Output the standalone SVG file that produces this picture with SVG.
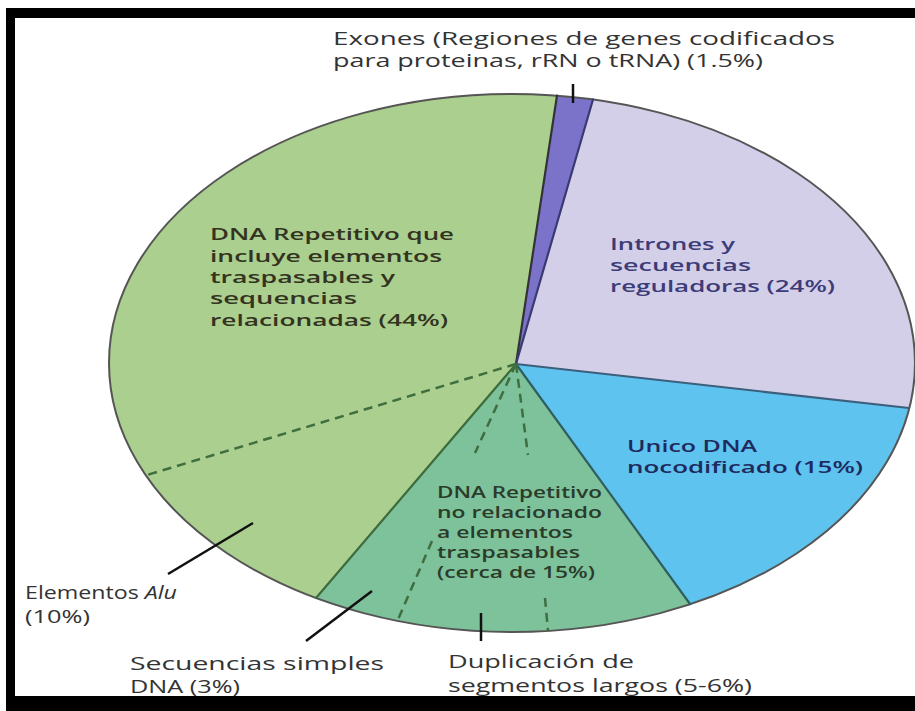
<svg xmlns="http://www.w3.org/2000/svg" width="915" height="711" viewBox="0 0 915 711">
<style>
.lbl{font-family:"Open Sans","Liberation Sans",sans-serif;font-size:18px;fill:#333;}
.in{font-family:"Open Sans","Liberation Sans",sans-serif;font-size:17px;font-weight:600;}
.sep{fill:none;stroke-width:2.2;stroke-linecap:round;}
.dash{fill:none;stroke:#3f6e3f;stroke-width:2.5;stroke-dasharray:9 6;}
.lead{fill:none;stroke:#111;stroke-width:2.5;}
</style>
<rect x="0" y="0" width="915" height="711" fill="#ffffff"/>
<g id="frame" fill="#000">
<rect x="6" y="8" width="909" height="10"/>
<rect x="6" y="8" width="9" height="703"/>
<rect x="6" y="696" width="909" height="15"/>
</g>
<g id="pie">
<g id="slice-repetitivo">
<path d="M516,364 L316,598 A403,269 0 0 1 557,95.7 Z" fill="#abcf8e"/>
</g>
<g id="slice-exones">
<path d="M516,364 L557,95.7 A403,269 0 0 1 593,99.5 Z" fill="#7b72c9"/>
</g>
<g id="slice-intrones">
<path d="M516,364 L593,99.5 A403,269 0 0 1 909,408 Z" fill="#d4cfe9"/>
</g>
<g id="slice-unico">
<path d="M516,364 L909,408 A403,269 0 0 1 690,604 Z" fill="#5ec3ee"/>
</g>
<g id="slice-norel">
<path d="M516,364 L690,604 A403,269 0 0 1 316,598 Z" fill="#7dc29a"/>
</g>
<ellipse cx="512" cy="363" rx="403" ry="269" fill="none" stroke="#555" stroke-width="2"/>
</g>
<g id="connectors">
<line class="sep" x1="516" y1="364" x2="557" y2="95.7" stroke="#333"/>
<line class="sep" x1="516" y1="364" x2="593" y2="99.5" stroke="#3a3a72"/>
<line class="sep" x1="516" y1="364" x2="909" y2="408" stroke="#3b5f7c"/>
<line class="sep" x1="516" y1="364" x2="690" y2="604" stroke="#2f5f5f"/>
<line class="sep" x1="516" y1="364" x2="316" y2="598" stroke="#3d6b3d"/>
<line class="dash" x1="516" y1="364" x2="147" y2="475"/>
<line class="dash" x1="516" y1="364" x2="475" y2="453"/>
<line class="dash" x1="516" y1="364" x2="528" y2="455"/>
<line class="dash" x1="432" y1="541" x2="397" y2="622"/>
<line class="dash" x1="545" y1="598" x2="548" y2="631"/>
<line class="lead" x1="573" y1="84" x2="573" y2="103" stroke-width="3"/>
<line class="lead" x1="481" y1="613" x2="481" y2="641"/>
<line class="lead" x1="253" y1="523" x2="168" y2="574"/>
<line class="lead" x1="372" y1="591" x2="306" y2="641"/>
</g>
<g id="label-exones" class="lbl">
<text x="333" y="45" textLength="502" lengthAdjust="spacingAndGlyphs">Exones (Regiones de genes codificados</text>
<text x="333" y="67" textLength="430" lengthAdjust="spacingAndGlyphs">para proteinas, rRN o tRNA) (1.5%)</text>
</g>
<g id="label-repetitivo" class="in" fill="#33331f">
<text x="210" y="240" textLength="244" lengthAdjust="spacingAndGlyphs">DNA Repetitivo que</text>
<text x="210" y="262" textLength="232" lengthAdjust="spacingAndGlyphs">incluye elementos</text>
<text x="210" y="283" textLength="185" lengthAdjust="spacingAndGlyphs">traspasables y</text>
<text x="210" y="304" textLength="147" lengthAdjust="spacingAndGlyphs">sequencias</text>
<text x="210" y="326" textLength="238" lengthAdjust="spacingAndGlyphs">relacionadas (44%)</text>
</g>
<g id="label-intrones" class="in" fill="#3c3c78">
<text x="610" y="250" textLength="125" lengthAdjust="spacingAndGlyphs">Intrones y</text>
<text x="610" y="271" textLength="141" lengthAdjust="spacingAndGlyphs">secuencias</text>
<text x="610" y="292" textLength="225" lengthAdjust="spacingAndGlyphs">reguladoras (24%)</text>
</g>
<g id="label-unico" class="in" fill="#1e2a5e">
<text x="627" y="452" textLength="130" lengthAdjust="spacingAndGlyphs">Unico DNA</text>
<text x="627" y="473" textLength="236" lengthAdjust="spacingAndGlyphs">nocodificado (15%)</text>
</g>
<g id="label-norel" class="in" fill="#2b3b2b" font-size="16">
<text x="437" y="498" textLength="165" lengthAdjust="spacingAndGlyphs" style="font-size:16px">DNA Repetitivo</text>
<text x="437" y="518" textLength="165" lengthAdjust="spacingAndGlyphs" style="font-size:16px">no relacionado</text>
<text x="437" y="538" textLength="136" lengthAdjust="spacingAndGlyphs" style="font-size:16px">a elementos</text>
<text x="437" y="558" textLength="143" lengthAdjust="spacingAndGlyphs" style="font-size:16px">traspasables</text>
<text x="437" y="578" textLength="158" lengthAdjust="spacingAndGlyphs" style="font-size:16px">(cerca de 15%)</text>
</g>
<g id="label-alu" class="lbl">
<text x="25" y="599" textLength="152" lengthAdjust="spacingAndGlyphs">Elementos <tspan font-style="italic">Alu</tspan></text>
<text x="25" y="623" textLength="65" lengthAdjust="spacingAndGlyphs">(10%)</text>
</g>
<g id="label-simples" class="lbl">
<text x="130" y="670" textLength="254" lengthAdjust="spacingAndGlyphs">Secuencias simples</text>
<text x="130" y="693" textLength="110" lengthAdjust="spacingAndGlyphs">DNA (3%)</text>
</g>
<g id="label-duplicacion" class="lbl">
<text x="448" y="668" textLength="186" lengthAdjust="spacingAndGlyphs">Duplicación de</text>
<text x="448" y="692" textLength="304" lengthAdjust="spacingAndGlyphs">segmentos largos (5-6%)</text>
</g>
</svg>
